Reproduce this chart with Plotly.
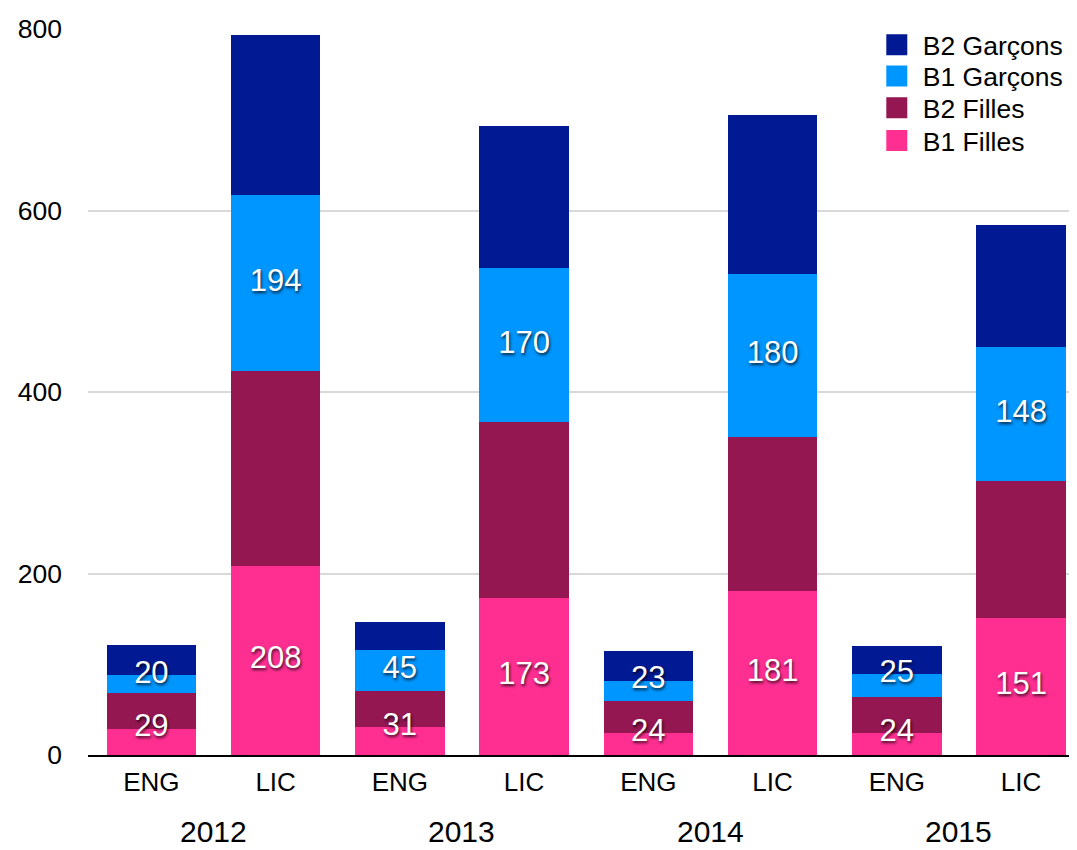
import plotly.graph_objects as go

# ---- data ----
years = ["2012", "2013", "2014", "2015"]
programs = ["ENG", "LIC"]
b1_filles = [29, 208, 31, 173, 24, 181, 24, 151]
b2_filles = [39, 215, 40, 194, 35, 169, 40, 151]
b1_garcons = [20, 194, 45, 170, 23, 180, 25, 148]
b2_garcons = [33, 176, 31, 156, 33, 175, 31, 134]

colors = {
    "B1 Filles": "#FF2F92",
    "B2 Filles": "#941751",
    "B1 Garçons": "#0096FF",
    "B2 Garçons": "#011993",
}
FONT = "Liberation Sans, Arial, Helvetica, sans-serif"

n = len(b1_filles)
xs = list(range(n))
tick_text = [programs[i % len(programs)] for i in xs]

series = [
    ("B1 Filles", b1_filles),
    ("B2 Filles", b2_filles),
    ("B1 Garçons", b1_garcons),
    ("B2 Garçons", b2_garcons),
]

fig = go.Figure()
for name, vals in series:
    fig.add_trace(go.Bar(
        x=xs, y=vals, name=name, marker=dict(color=colors[name], line=dict(width=0)),
        showlegend=False,
    ))

# value labels for B1 Filles and B1 Garçons
def label_y(base, vals):
    out = []
    for b, v in zip(base, vals):
        out.append(b + v / 2 if v >= 35 else b + v)
    return out

base_b1f = [0] * n
base_b1g = [a + b for a, b in zip(b1_filles, b2_filles)]
lab_x = xs + xs
lab_y = label_y(base_b1f, b1_filles) + label_y(base_b1g, b1_garcons)
lab_t = [str(v) for v in b1_filles] + [str(v) for v in b1_garcons]
fig.add_trace(go.Scatter(
    x=lab_x, y=lab_y, text=lab_t, mode="text", showlegend=False, hoverinfo="skip",
    textposition="middle center",
    textfont=dict(family=FONT, size=31, color="white", shadow="1px 2px 3px rgba(0,0,0,0.75)"),
))

# legend proxies (top to bottom), one legend box per row
legend_order = ["B2 Garçons", "B1 Garçons", "B2 Filles", "B1 Filles"]
legend_rows_y = [0.978, 0.935, 0.891, 0.846]
legend_ids = ["legend", "legend2", "legend3", "legend4"]
for name, lid in zip(legend_order, legend_ids):
    fig.add_trace(go.Scatter(
        x=[None], y=[None], mode="markers", name=name, legend=lid,
        marker=dict(symbol="square", size=16, color=colors[name],
                    line=dict(width=5, color=colors[name])),
    ))

legend_style = dict(
    x=0.7915, xanchor="left", yanchor="middle",
    font=dict(family=FONT, size=26.5, color="black"),
    bgcolor="rgba(0,0,0,0)", itemsizing="trace", itemwidth=42,
)
for lid, ly in zip(legend_ids, legend_rows_y):
    fig.update_layout({lid: dict(legend_style, y=ly)})

# year labels under each pair
for k, yr in enumerate(years):
    pair = xs[k * len(programs):(k + 1) * len(programs)]
    fig.add_annotation(
        x=sum(pair) / len(pair), y=-0.105, xref="x", yref="paper",
        text=yr, showarrow=False, yanchor="middle",
        font=dict(family=FONT, size=30, color="black"),
    )

fig.update_layout(
    width=1069, height=842,
    barmode="stack", bargap=0.28,
    plot_bgcolor="white", paper_bgcolor="white",
    margin=dict(l=80, r=0, t=21, b=95),
    font=dict(family=FONT, color="black"),
    xaxis=dict(
        range=[-0.51, n - 0.55], tickvals=xs, ticktext=tick_text,
        showline=True, linecolor="black", linewidth=2, ticks="",
        showgrid=False, zeroline=False, tickfont=dict(size=26),
        ticklabelstandoff=3,
    ),
    yaxis=dict(
        range=[0, 800], tickvals=[0, 200, 400, 600, 800],
        showgrid=True, gridcolor="#d9d9d9", gridwidth=1.5,
        zeroline=False, showline=False, ticks="",
        tickfont=dict(size=26.5), ticklabelstandoff=25,
    ),
)

fig.write_html("out.html")
